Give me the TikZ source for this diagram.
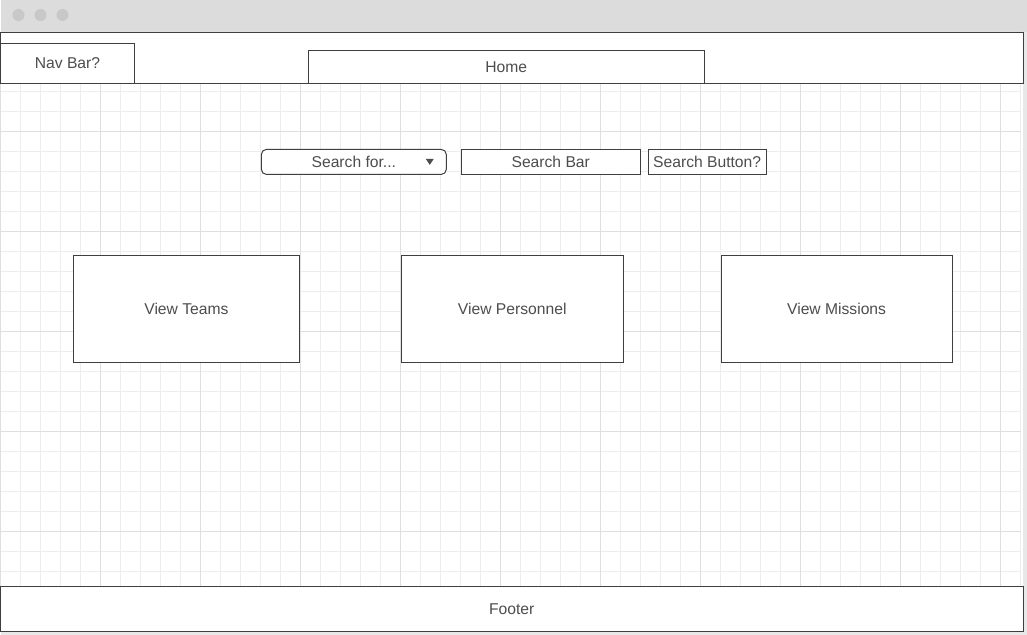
\documentclass[tikz,border=0pt]{standalone}
\usepackage{fontspec}
\setmainfont{Liberation Sans}
\usetikzlibrary{positioning}
\definecolor{ink}{HTML}{3F3F3F}
\definecolor{txt}{HTML}{4D4D4D}
\definecolor{chrome}{HTML}{DCDCDC}
\definecolor{dots}{HTML}{C8C8C8}
\definecolor{edge}{HTML}{E8E8E8}
\definecolor{minor}{HTML}{EDEDED}
\definecolor{major}{HTML}{DFDFDF}

\begin{document}
\begin{tikzpicture}[x=0.75pt,y=-0.75pt,font=\fontsize{11.75}{13}\selectfont,
   box/.style={draw=ink,line width=0.75pt,fill=white,text=txt,inner sep=0pt},
   card/.style={box,minimum height=80.25pt},
   field/.style={box,minimum height=18.75pt}]
   % window
   \fill[edge] (0,0) rectangle (1027,635);
   \fill[chrome] (0,0) rectangle (1027,32);
   \fill[dots] (18,15) circle (4.5pt) (40,15) circle (4.5pt) (62,15) circle (4.5pt);
   \fill[white] (0,32) rectangle (1023,631);
   \begin{scope}[shift={(0,32)}]
   \draw[minor,line width=0.75pt,step=15pt] (0,599) grid (1021,0);
   \draw[major,line width=0.75pt,step=75pt] (0,599) grid (1021,0);
   \end{scope}
   % header
   \node[box,minimum width=767.25pt,minimum height=38.25pt] (header) at (511.5,58) {};
   \node[box,minimum width=100.5pt,minimum height=30pt] (nav) at (67,63.5) {Nav Bar?};
   \node[box,minimum width=297pt,minimum height=24.75pt] (home) at (506,67) {Home};
   % search row
   \node[field,minimum width=138.75pt,rounded corners=3.75pt] (drop) at (353.5,162) {Search for...};
   \node[field,minimum width=134.25pt] (bar) [right=10.5pt of drop] {Search Bar};
   \node[field,minimum width=88.5pt] (button) [right=5.25pt of bar] {Search Button?};
   \fill[txt] (drop.east) ++(-21,-3) -- ++(8,0) -- ++(-4,6) -- cycle;
   % views
   \node[card,minimum width=169.5pt] (teams) at (186,309) {View Teams};
   \node[card,minimum width=166.5pt] (personnel) [right=75.75pt of teams] {View Personnel};
   \node[card,minimum width=173.25pt] (missions) [right=72.75pt of personnel] {View Missions};
   % footer
   \node[box,minimum width=767.25pt,minimum height=33.75pt] (footer) at (511.5,609) {Footer};
\end{tikzpicture}
\end{document}
